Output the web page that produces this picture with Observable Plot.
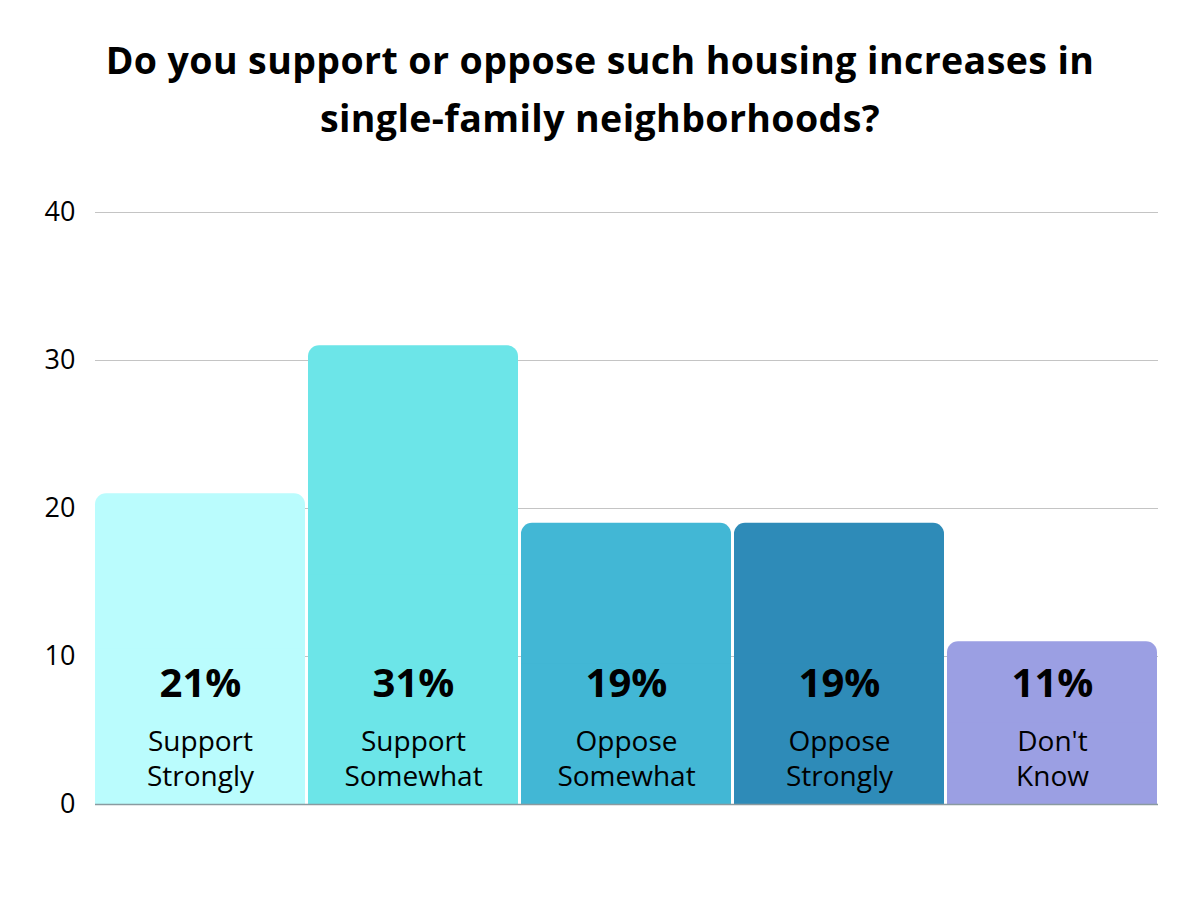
<!DOCTYPE html>
<html>
<head>
<meta charset="utf-8">
<script src="https://cdn.jsdelivr.net/npm/d3@7"></script>
<script src="https://cdn.jsdelivr.net/npm/@observablehq/plot@0.6"></script>
<style>
  html, body { margin: 0; padding: 0; background: #fff; }
  body { width: 1200px; height: 900px; overflow: hidden; font-family: "Open Sans", sans-serif; }
  #title { height: 160px; box-sizing: border-box; padding-top: 31px; text-align: center;
           font-weight: 700; font-size: 37.5px; line-height: 58px; color: #000; letter-spacing: 0.4px; white-space: nowrap; }
  #chart svg { display: block; }
</style>
</head>
<body>
<div id="title">Do you support or oppose such housing increases in<br>single-family neighborhoods?</div>
<div id="chart"></div>
<script>
const categories = ["Support Strongly", "Support Somewhat", "Oppose Somewhat", "Oppose Strongly", "Don't Know"];
const labels = ["Support\nStrongly", "Support\nSomewhat", "Oppose\nSomewhat", "Oppose\nStrongly", "Don't\nKnow"];
const values = [21, 31, 19, 19, 11];
const colors = ["#bafcfd", "#6ce5e8", "#42b7d5", "#2e8bb8", "#9b9fe3"];
const yTicks = [0, 10, 20, 30, 40];

const data = categories.map((c, i) => ({category: c, label: labels[i], value: values[i], color: colors[i]}));

const chart = Plot.plot({
  width: 1200,
  height: 740,
  marginTop: 52,
  marginBottom: 96,
  marginLeft: 95,
  marginRight: 42,
  style: {fontFamily: "Open Sans, sans-serif", background: "#fff"},
  x: {domain: categories, paddingInner: 0.012, paddingOuter: 0, axis: null},
  y: {domain: [0, 40], ticks: yTicks, label: null},
  marks: [
    Plot.ruleY(yTicks.filter(t => t > 0), {stroke: "#c4c4c4", strokeWidth: 1}),
    Plot.axisY({ticks: yTicks, tickSize: 0, tickPadding: 20, fontSize: 27, fill: "#000", label: null}),
    Plot.barY(data, {x: "category", y: "value", fill: "color", rx: 11}),
    Plot.barY(data, {x: "category", y1: 0, y2: d => d.value / 2, fill: "color"}),
    Plot.ruleY([0], {stroke: "#8a9aa0", strokeWidth: 1.5}),
    Plot.text(data, {x: "category", text: d => d.value + "%", frameAnchor: "bottom", lineAnchor: "middle",
      dy: -120, fontSize: 40, fontWeight: 700, fill: "#000"}),
    Plot.text(data, {x: "category", text: "label", frameAnchor: "bottom", lineAnchor: "bottom",
      dy: -19, fontSize: 28, lineHeight: 1.25, fill: "#000"})
  ]
});
document.getElementById("chart").appendChild(chart);
</script>
</body>
</html>
